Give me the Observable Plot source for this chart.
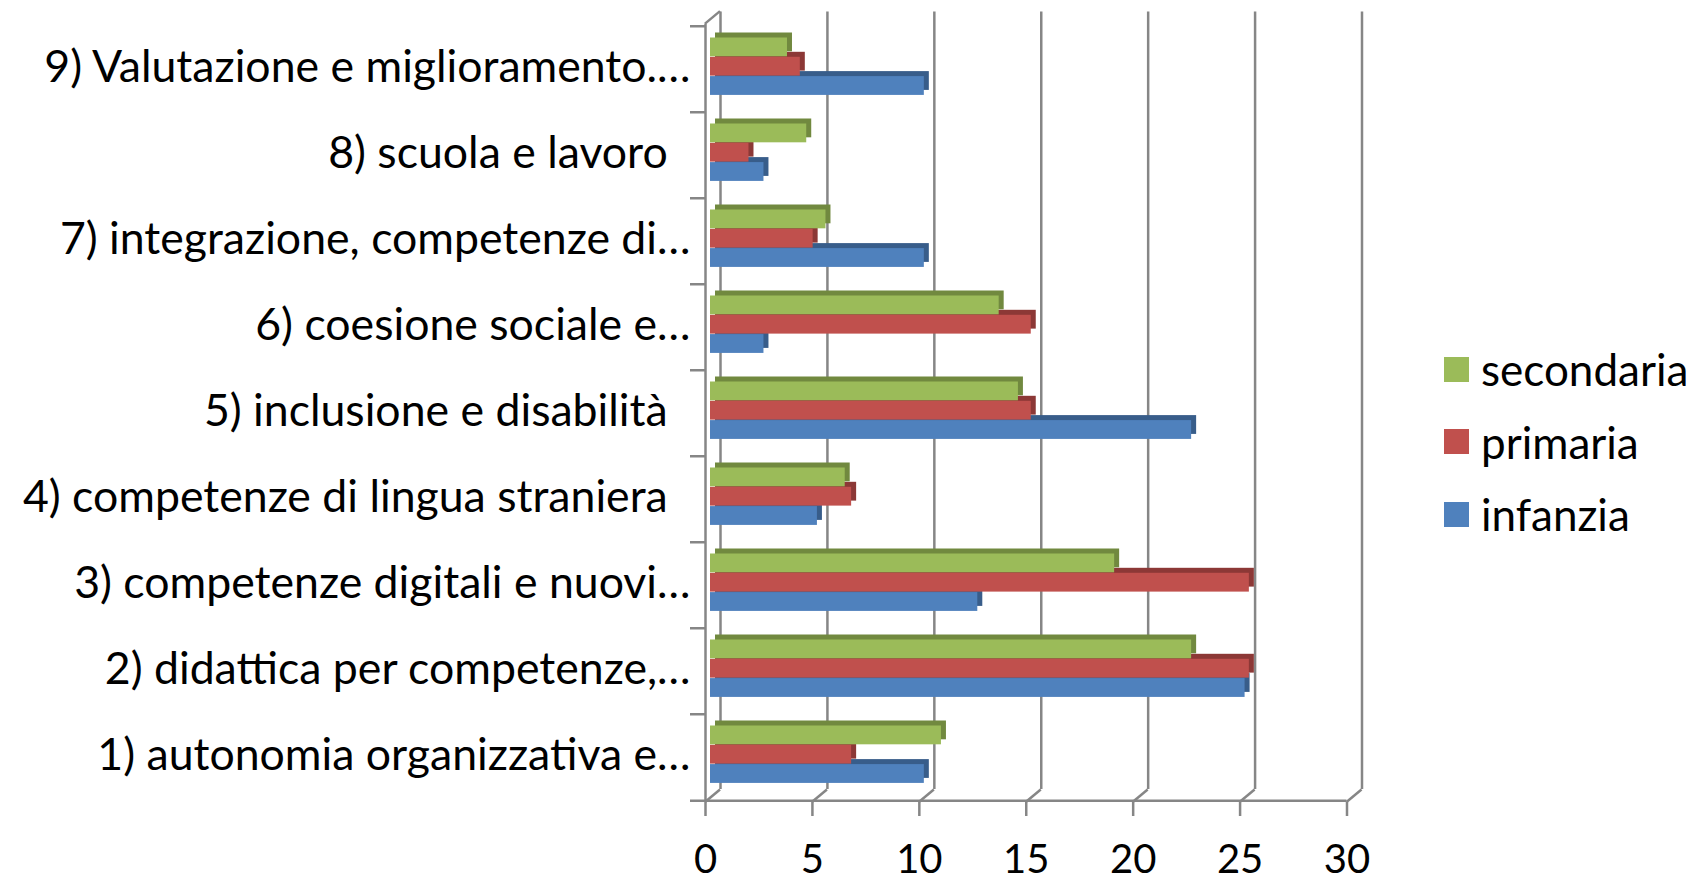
<!DOCTYPE html>
<html><head><meta charset="utf-8">
<script src="https://cdn.jsdelivr.net/npm/d3@7"></script>
<script src="https://cdn.jsdelivr.net/npm/@observablehq/plot@0.6"></script>
<style>
body{margin:0;background:#fff;}
#wrap{position:relative;width:1696px;height:882px;font-family:Lato, "Open Sans", sans-serif;}
svg text{white-space:pre;}
#legend{position:absolute;left:1444px;top:333px;}
.item{display:flex;align-items:center;height:72.5px;font-size:44px;color:#000;line-height:1;}
.sw{width:25px;height:25px;margin-right:12px;flex:none;}
</style></head><body><div id="wrap"><div id="legend"></div></div>
<script>
// categories (bottom to top as in source order)
const categories = [
  "1) autonomia organizzativa e…",
  "2) didattica per competenze,…",
  "3) competenze digitali e nuovi…",
  "4) competenze di lingua straniera  ",
  "5) inclusione e disabilità  ",
  "6) coesione sociale e…",
  "7) integrazione, competenze di…",
  "8) scuola e lavoro  ",
  "9) Valutazione e miglioramento.…"
];
const series = ["secondaria", "primaria", "infanzia"];
const infanzia   = [10, 25, 12.5, 5, 22.5, 2.5, 10, 2.5, 10];
const primaria   = [6.6, 25.2, 25.2, 6.6, 15.0, 15.0, 4.8, 1.8, 4.2];
const secondaria = [10.8, 22.5, 18.9, 6.3, 14.4, 13.5, 5.4, 4.5, 3.6];
const xTicks = [0, 5, 10, 15, 20, 25, 30];
const colors = {secondaria: "#9bbb59", primaria: "#c0504d", infanzia: "#4f81bd"};
const dark   = {secondaria: "#71893f", primaria: "#8c3836", infanzia: "#385d8a"};

const rows = categories.map((c, i) => ({cat: c, secondaria: secondaria[i], primaria: primaria[i], infanzia: infanzia[i]}));

const W = 1696, H = 882, mt = 21.6, mb = 82, ml = 710, mr = 344.5;
const band = (H - mt - mb) / categories.length;
const barH = 19.3, top0 = 13.5;
const yDomain = categories.slice().reverse();
const grid = "#868686";
const depthX = 15, depthY = 12.5, frontDx = -5;

const barMarks = [];
for (const s of ["infanzia", "primaria", "secondaria"]) {
  const i = series.indexOf(s);
  const insetTop = top0 + i * barH;
  const insetBottom = band - top0 - (i + 1) * barH;
  barMarks.push(Plot.barX(rows, {y: "cat", x: s, fill: dark[s], dx: 5, dy: -5, insetTop, insetBottom}));
  barMarks.push(Plot.barX(rows, {y: "cat", x: s, fill: colors[s], insetTop, insetBottom}));
}

// perspective connectors between the front axes and the back wall
function wallEdges(index, scales, values, dimensions) {
  const g = d3.create("svg:g").attr("stroke", grid).attr("stroke-width", 2.5).attr("fill", "none");
  const yb = dimensions.height - dimensions.marginBottom + 2;
  const yt = dimensions.marginTop + 2;
  for (const v of xTicks) {
    const xf = scales.x(v) + frontDx;
    g.append("line").attr("x1", xf).attr("y1", yb).attr("x2", xf + depthX).attr("y2", yb - depthY);
  }
  const x0 = scales.x(0) + frontDx;
  g.append("line").attr("x1", x0).attr("y1", yt).attr("x2", x0 + depthX).attr("y2", yt - depthY);
  return g.node();
}

const chart = Plot.plot({
  width: W, height: H,
  marginTop: mt, marginBottom: mb, marginLeft: ml, marginRight: mr,
  x: {domain: [0, 30]},
  y: {type: "band", domain: yDomain, padding: 0},
  style: {fontFamily: "Lato, 'Open Sans', sans-serif", background: "white", overflow: "visible", color: "black"},
  marks: [
    Plot.ruleX(xTicks, {x: d => d, dx: 10, dy: -10, insetBottom: 1, stroke: grid, strokeWidth: 2.5}),
    Plot.ruleX([0], {x: d => d, dx: frontDx, stroke: grid, strokeWidth: 2.5, insetTop: 2, insetBottom: -2}),
    Plot.ruleY([yDomain[yDomain.length - 1]], {y: d => d, x1: 0, x2: 30, dx: frontDx, dy: band / 2 + 2, stroke: grid, strokeWidth: 2.5}),
    wallEdges,
    ...barMarks,
    Plot.axisY({tickSize: 0, tickPadding: 20, fontSize: 44.6, label: null}),
    Plot.axisY({tickSize: 15, dx: frontDx, dy: -band / 2 + 2, tickFormat: () => "", stroke: grid, strokeWidth: 2.5, label: null}),
    Plot.axisY({ticks: [yDomain[yDomain.length - 1]], tickSize: 15, dx: frontDx, dy: band / 2 + 2, tickFormat: () => "", stroke: grid, strokeWidth: 2.5, label: null}),
    Plot.axisX({ticks: xTicks, tickSize: 14, tickPadding: 28, dx: frontDx, dy: 2, fontSize: 40, stroke: grid, strokeWidth: 2.5, label: null})
  ]
});
document.getElementById("wrap").prepend(chart);

const legend = document.getElementById("legend");
for (const s of series) {
  const it = document.createElement("div");
  it.className = "item";
  it.innerHTML = `<div class="sw" style="background:${colors[s]}"></div><span>${s}</span>`;
  legend.appendChild(it);
}
</script>
</body></html>
